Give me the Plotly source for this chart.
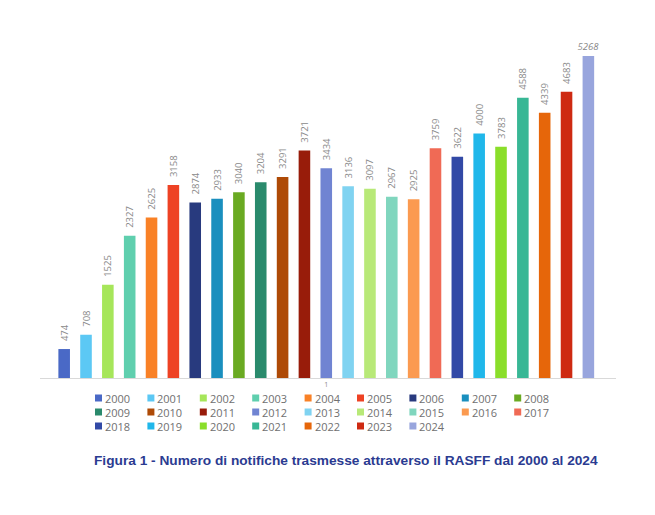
import plotly.graph_objects as go

# dati: notifiche RASFF per anno
anni = [str(a) for a in range(2000, 2025)]
notifiche = [474, 708, 1525, 2327, 2625, 3158, 2874, 2933, 3040, 3204, 3291, 3721, 3434,
             3136, 3097, 2967, 2925, 3759, 3622, 4000, 3783, 4588, 4339, 4683, 5268]
categoria = ["1"]

colori = ["#4a69c6", "#5cc8f4", "#a6e65a", "#5fcfae", "#f98126", "#ee4224", "#283a7e",
          "#1a8fbe", "#6aaa22", "#2a8a6c", "#ae4a06", "#981c0a", "#7084d2", "#80d3f1",
          "#b8e978", "#80d6be", "#fb9a50", "#f06a55", "#3249a6", "#20b7ea", "#8ade2a",
          "#38b795", "#e6660a", "#ce2a12", "#98a5dd"]

fig = go.Figure()
for i, anno in enumerate(anni):
    ultimo = i == len(anni) - 1
    fig.add_trace(go.Bar(
        x=categoria, y=[notifiche[i]], name=anno,
        marker_color=colori[i], marker_line_width=0,
        text=[notifiche[i]],
        # spazi non separabili per staccare l'etichetta dalla barra
        texttemplate="<i>%{y}</i>" if ultimo else "\u00a0\u00a0%{y}",
        textposition="outside", textangle=0 if ultimo else -90,
        constraintext="none",
        textfont=dict(size=9.5, color="#8a8a8a", family="Open Sans"),
        cliponaxis=False, showlegend=False,
    ))

# legenda a griglia (9 colonne): quadratino + testo
W, H = 576, 348  # area del grafico in px
for i, anno in enumerate(anni):
    col, riga = i % 9, i // 9
    x0 = 95 - 40 + col * 52.4
    yc = 398 - 378 + riga * 14
    fig.add_shape(type="rect", xref="paper", yref="paper",
                  x0=x0 / W, x1=(x0 + 7) / W, y0=-(yc - 3.5) / H, y1=-(yc + 3.5) / H,
                  fillcolor=colori[i], line_width=0)
    fig.add_annotation(
        xref="paper", yref="paper", x=(x0 + 8) / W, y=-yc / H,
        xanchor="left", yanchor="middle", showarrow=False, text=anno,
        font=dict(size=11, color="#707070", family="Open Sans"),
    )

fig.add_annotation(
    xref="paper", yref="paper", x=(346 - 40) / W, y=-(460 - 378) / H,
    xanchor="center", yanchor="middle", showarrow=False,
    text="<b>Figura 1 - Numero di notifiche trasmesse attraverso il RASFF dal 2000 al 2024</b>",
    font=dict(size=13.7, color="#2b3b91", family="Liberation Sans"),
)

fig.update_xaxes(type="category", range=[-0.497, 0.503], showline=True, linecolor="#d9d9d9",
                 linewidth=1, showgrid=False, ticks="",
                 tickfont=dict(size=7, color="#8c8c8c"))
fig.update_yaxes(range=[0, 5695], visible=False, showgrid=False)
# la pagina ha 8px di margine: figura ridotta e spostata di conseguenza
fig.update_layout(
    width=647, height=507,
    margin=dict(l=32, r=39, t=22, b=137),
    barmode="group", bargap=0.052, bargroupgap=0.47,
    plot_bgcolor="white", paper_bgcolor="white",
)
fig.write_html("out.html")
